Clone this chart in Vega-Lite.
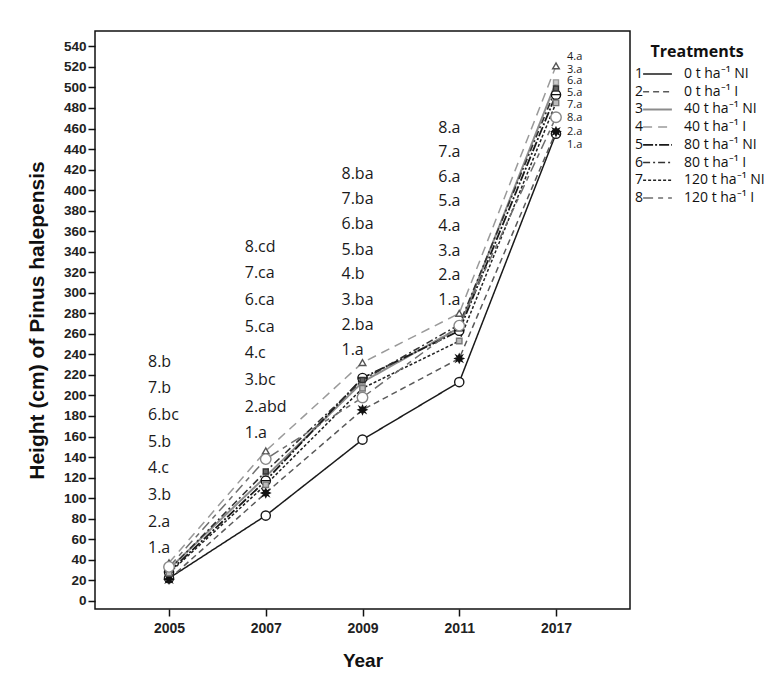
{
  "$schema": "https://vega.github.io/schema/vega-lite/v6.json",
  "width": 535,
  "height": 578,
  "padding": {"left": 26, "top": 31, "right": 5, "bottom": 5},
  "background": "white",
  "config": {
    "view": {"stroke": "#111111", "strokeWidth": 1.5},
    "font": "Liberation Sans"
  },
  "datasets": {
    "heights": [
      {"id": "1", "treatment": "0 t ha⁻¹ NI", "year": "2005", "height": 22},
      {"id": "1", "treatment": "0 t ha⁻¹ NI", "year": "2007", "height": 83},
      {"id": "1", "treatment": "0 t ha⁻¹ NI", "year": "2009", "height": 157},
      {"id": "1", "treatment": "0 t ha⁻¹ NI", "year": "2011", "height": 213},
      {"id": "1", "treatment": "0 t ha⁻¹ NI", "year": "2017", "height": 455},
      {"id": "2", "treatment": "0 t ha⁻¹ I", "year": "2005", "height": 21},
      {"id": "2", "treatment": "0 t ha⁻¹ I", "year": "2007", "height": 105},
      {"id": "2", "treatment": "0 t ha⁻¹ I", "year": "2009", "height": 186},
      {"id": "2", "treatment": "0 t ha⁻¹ I", "year": "2011", "height": 236},
      {"id": "2", "treatment": "0 t ha⁻¹ I", "year": "2017", "height": 457},
      {"id": "3", "treatment": "40 t ha⁻¹ NI", "year": "2005", "height": 31},
      {"id": "3", "treatment": "40 t ha⁻¹ NI", "year": "2007", "height": 121},
      {"id": "3", "treatment": "40 t ha⁻¹ NI", "year": "2009", "height": 213},
      {"id": "3", "treatment": "40 t ha⁻¹ NI", "year": "2011", "height": 266},
      {"id": "3", "treatment": "40 t ha⁻¹ NI", "year": "2017", "height": 505},
      {"id": "4", "treatment": "40 t ha⁻¹ I", "year": "2005", "height": 37},
      {"id": "4", "treatment": "40 t ha⁻¹ I", "year": "2007", "height": 146},
      {"id": "4", "treatment": "40 t ha⁻¹ I", "year": "2009", "height": 232},
      {"id": "4", "treatment": "40 t ha⁻¹ I", "year": "2011", "height": 280},
      {"id": "4", "treatment": "40 t ha⁻¹ I", "year": "2017", "height": 521},
      {"id": "5", "treatment": "80 t ha⁻¹ NI", "year": "2005", "height": 28},
      {"id": "5", "treatment": "80 t ha⁻¹ NI", "year": "2007", "height": 117},
      {"id": "5", "treatment": "80 t ha⁻¹ NI", "year": "2009", "height": 217},
      {"id": "5", "treatment": "80 t ha⁻¹ NI", "year": "2011", "height": 263},
      {"id": "5", "treatment": "80 t ha⁻¹ NI", "year": "2017", "height": 493},
      {"id": "6", "treatment": "80 t ha⁻¹ I", "year": "2005", "height": 30},
      {"id": "6", "treatment": "80 t ha⁻¹ I", "year": "2007", "height": 126},
      {"id": "6", "treatment": "80 t ha⁻¹ I", "year": "2009", "height": 215},
      {"id": "6", "treatment": "80 t ha⁻¹ I", "year": "2011", "height": 269},
      {"id": "6", "treatment": "80 t ha⁻¹ I", "year": "2017", "height": 499},
      {"id": "7", "treatment": "120 t ha⁻¹ NI", "year": "2005", "height": 27},
      {"id": "7", "treatment": "120 t ha⁻¹ NI", "year": "2007", "height": 113},
      {"id": "7", "treatment": "120 t ha⁻¹ NI", "year": "2009", "height": 207},
      {"id": "7", "treatment": "120 t ha⁻¹ NI", "year": "2011", "height": 253},
      {"id": "7", "treatment": "120 t ha⁻¹ NI", "year": "2017", "height": 485},
      {"id": "8", "treatment": "120 t ha⁻¹ I", "year": "2005", "height": 33},
      {"id": "8", "treatment": "120 t ha⁻¹ I", "year": "2007", "height": 138},
      {"id": "8", "treatment": "120 t ha⁻¹ I", "year": "2009", "height": 198},
      {"id": "8", "treatment": "120 t ha⁻¹ I", "year": "2011", "height": 268},
      {"id": "8", "treatment": "120 t ha⁻¹ I", "year": "2017", "height": 471}
    ],
    "letters": [
      {"year": "2005", "height": 51, "label": "1.a"},
      {"year": "2005", "height": 77, "label": "2.a"},
      {"year": "2005", "height": 103, "label": "3.b"},
      {"year": "2005", "height": 129, "label": "4.c"},
      {"year": "2005", "height": 155, "label": "5.b"},
      {"year": "2005", "height": 181, "label": "6.bc"},
      {"year": "2005", "height": 207, "label": "7.b"},
      {"year": "2005", "height": 233, "label": "8.b"},
      {"year": "2007", "height": 163, "label": "1.a"},
      {"year": "2007", "height": 189, "label": "2.abd"},
      {"year": "2007", "height": 215, "label": "3.bc"},
      {"year": "2007", "height": 241, "label": "4.c"},
      {"year": "2007", "height": 267, "label": "5.ca"},
      {"year": "2007", "height": 293, "label": "6.ca"},
      {"year": "2007", "height": 319, "label": "7.ca"},
      {"year": "2007", "height": 345, "label": "8.cd"},
      {"year": "2009", "height": 244, "label": "1.a"},
      {"year": "2009", "height": 269, "label": "2.ba"},
      {"year": "2009", "height": 293, "label": "3.ba"},
      {"year": "2009", "height": 318, "label": "4.b"},
      {"year": "2009", "height": 342, "label": "5.ba"},
      {"year": "2009", "height": 367, "label": "6.ba"},
      {"year": "2009", "height": 391, "label": "7.ba"},
      {"year": "2009", "height": 416, "label": "8.ba"},
      {"year": "2011", "height": 293, "label": "1.a"},
      {"year": "2011", "height": 317, "label": "2.a"},
      {"year": "2011", "height": 341, "label": "3.a"},
      {"year": "2011", "height": 365, "label": "4.a"},
      {"year": "2011", "height": 389, "label": "5.a"},
      {"year": "2011", "height": 413, "label": "6.a"},
      {"year": "2011", "height": 437, "label": "7.a"},
      {"year": "2011", "height": 461, "label": "8.a"},
      {"year": "2017", "height": 444, "label": "1.a"},
      {"year": "2017", "height": 457, "label": "2.a"},
      {"year": "2017", "height": 470, "label": "8.a"},
      {"year": "2017", "height": 483, "label": "7.a"},
      {"year": "2017", "height": 495, "label": "5.a"},
      {"year": "2017", "height": 506, "label": "6.a"},
      {"year": "2017", "height": 517, "label": "3.a"},
      {"year": "2017", "height": 530, "label": "4.a"}
    ]
  },
  "encoding": {
    "x": {
      "field": "year",
      "type": "ordinal",
      "scale": {"type": "point", "padding": 0.765, "domain": ["2005", "2007", "2009", "2011", "2017"]},
      "axis": {
        "title": "Year",
        "titleFont": "Liberation Sans",
        "titleFontSize": 19,
        "titleFontWeight": "bold",
        "titleColor": "#111111",
        "titlePadding": 16,
        "labelFont": "Liberation Sans",
        "labelFontSize": 14,
        "labelFontWeight": "bold",
        "labelColor": "#222222",
        "labelPadding": 5,
        "labelAngle": 0,
        "tickSize": 7,
        "tickColor": "#111111",
        "tickWidth": 1.5,
        "domain": false,
        "grid": false
      }
    },
    "y": {
      "field": "height",
      "type": "quantitative",
      "scale": {"domain": [-8, 555], "nice": false, "zero": false},
      "axis": {
        "title": "Height (cm) of Pinus halepensis",
        "titleFont": "Liberation Sans",
        "titleFontSize": 21,
        "titleFontWeight": "bold",
        "titleColor": "#111111",
        "titlePadding": 16,
        "values": [0, 20, 40, 60, 80, 100, 120, 140, 160, 180, 200, 220, 240, 260, 280, 300, 320, 340, 360, 380, 400, 420, 440, 460, 480, 500, 520, 540],
        "labelFont": "Liberation Sans",
        "labelFontSize": 13.5,
        "labelFontWeight": "bold",
        "labelColor": "#222222",
        "labelPadding": 2,
        "tickSize": 7,
        "tickColor": "#111111",
        "tickWidth": 1.5,
        "domain": false,
        "grid": false
      }
    }
  },
  "layer": [
    {
      "data": {"name": "heights"},
      "mark": {"type": "line"},
      "encoding": {
        "color": {
          "field": "treatment",
          "type": "nominal",
          "scale": {
            "domain": ["0 t ha⁻¹ NI", "0 t ha⁻¹ I", "40 t ha⁻¹ NI", "40 t ha⁻¹ I", "80 t ha⁻¹ NI", "80 t ha⁻¹ I", "120 t ha⁻¹ NI", "120 t ha⁻¹ I"],
            "range": ["#1a1a1a", "#5a5a5a", "#8c8c8c", "#9a9a9a", "#1a1a1a", "#333333", "#222222", "#6e6e6e"]
          },
          "legend": {
            "orient": "none",
            "legendX": 555.5,
            "legendY": 13,
            "title": "Treatments",
            "titleFont": "Open Sans",
            "titleFontSize": 16,
            "titleFontWeight": "bold",
            "titleColor": "#111111",
            "titlePadding": 7,
            "labelFont": "Open Sans",
            "labelFontSize": 14,
            "labelColor": "#111111",
            "labelLimit": 200,
            "labelOffset": 19.5,
            "symbolType": "M-2.4,0H2.4",
            "symbolSize": 144,
            "symbolFillColor": "transparent",
            "rowPadding": 3.7
          }
        },
        "strokeDash": {
          "field": "treatment",
          "type": "nominal",
          "scale": {
            "domain": ["0 t ha⁻¹ NI", "0 t ha⁻¹ I", "40 t ha⁻¹ NI", "40 t ha⁻¹ I", "80 t ha⁻¹ NI", "80 t ha⁻¹ I", "120 t ha⁻¹ NI", "120 t ha⁻¹ I"],
            "range": [[1, 0], [6, 4], [1, 0], [9, 6], [10, 2, 2, 2], [7, 3, 2, 3], [3, 2], [10, 5, 5, 5]]
          }
        },
        "strokeWidth": {
          "field": "treatment",
          "type": "nominal",
          "scale": {
            "type": "ordinal",
            "domain": ["0 t ha⁻¹ NI", "0 t ha⁻¹ I", "40 t ha⁻¹ NI", "40 t ha⁻¹ I", "80 t ha⁻¹ NI", "80 t ha⁻¹ I", "120 t ha⁻¹ NI", "120 t ha⁻¹ I"],
            "range": [1.5, 1.5, 2, 1.5, 1.8, 1.6, 1.5, 1.5]
          }
        },
        "opacity": {
          "field": "id",
          "type": "ordinal",
          "scale": {"type": "ordinal", "domain": ["1", "2", "3", "4", "5", "6", "7", "8"], "range": [1, 1, 1, 1, 1, 1, 1, 1]},
          "legend": {
            "orient": "none",
            "legendX": 526,
            "legendY": 36,
            "title": null,
            "labelFont": "Open Sans",
            "labelFontSize": 14,
            "labelColor": "#111111",
            "labelOffset": 0,
            "symbolSize": 0,
            "symbolOpacity": 0,
            "rowPadding": 3.7
          }
        }
      }
    },
    {
      "data": {"name": "heights"},
      "mark": {"type": "point", "filled": true, "strokeWidth": 1.4, "opacity": 1},
      "encoding": {
        "shape": {
          "field": "treatment",
          "type": "nominal",
          "scale": {
            "domain": ["120 t ha⁻¹ I", "120 t ha⁻¹ NI", "80 t ha⁻¹ I", "80 t ha⁻¹ NI", "40 t ha⁻¹ I", "40 t ha⁻¹ NI", "0 t ha⁻¹ I", "0 t ha⁻¹ NI"],
            "range": [
              "circle",
              "square",
              "square",
              "M-1,0A1,1 0 1,1 1,0A1,1 0 1,1 -1,0ZM-1,0L1,0",
              "triangle-up",
              "square",
              "M0,-1L0.25,-0.45L0.7,-0.7L0.45,-0.25L1,0L0.45,0.25L0.7,0.7L0.25,0.45L0,1L-0.25,0.45L-0.7,0.7L-0.45,0.25L-1,0L-0.45,-0.25L-0.7,-0.7L-0.25,-0.45Z",
              "circle"
            ]
          },
          "legend": null
        },
        "size": {
          "field": "treatment",
          "type": "nominal",
          "scale": {
            "type": "ordinal",
            "domain": ["120 t ha⁻¹ I", "120 t ha⁻¹ NI", "80 t ha⁻¹ I", "80 t ha⁻¹ NI", "40 t ha⁻¹ I", "40 t ha⁻¹ NI", "0 t ha⁻¹ I", "0 t ha⁻¹ NI"],
            "range": [110, 30, 25, 85, 45, 25, 70, 85]
          },
          "legend": null
        },
        "stroke": {
          "field": "treatment",
          "type": "nominal",
          "scale": {
            "domain": ["120 t ha⁻¹ I", "120 t ha⁻¹ NI", "80 t ha⁻¹ I", "80 t ha⁻¹ NI", "40 t ha⁻¹ I", "40 t ha⁻¹ NI", "0 t ha⁻¹ I", "0 t ha⁻¹ NI"],
            "range": ["#888888", "#777777", "#333333", "#111111", "#555555", "#999999", "#111111", "#1a1a1a"]
          },
          "legend": null
        },
        "fill": {
          "field": "treatment",
          "type": "nominal",
          "scale": {
            "domain": ["120 t ha⁻¹ I", "120 t ha⁻¹ NI", "80 t ha⁻¹ I", "80 t ha⁻¹ NI", "40 t ha⁻¹ I", "40 t ha⁻¹ NI", "0 t ha⁻¹ I", "0 t ha⁻¹ NI"],
            "range": ["#ffffff", "#bbbbbb", "#666666", "#ffffff", "#ffffff", "#cccccc", "#111111", "#ffffff"]
          },
          "legend": null
        }
      }
    },
    {
      "data": {"name": "letters"},
      "transform": [{"filter": "datum.year != '2017'"}],
      "mark": {"type": "text", "align": "left", "baseline": "middle", "dx": -21, "font": "Open Sans", "fontSize": 16, "color": "#1a1a1a"},
      "encoding": {
        "text": {"field": "label", "type": "nominal"}
      }
    },
    {
      "data": {"name": "letters"},
      "transform": [{"filter": "datum.year == '2017'"}],
      "mark": {"type": "text", "align": "left", "baseline": "middle", "dx": 11, "font": "Open Sans", "fontSize": 11, "color": "#1a1a1a"},
      "encoding": {
        "text": {"field": "label", "type": "nominal"}
      }
    }
  ]
}
